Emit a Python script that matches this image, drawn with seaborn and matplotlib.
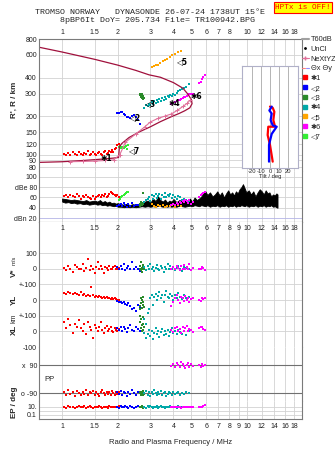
import numpy as np
import pandas as pd
import seaborn as sns
import matplotlib
matplotlib.use('Agg')
from matplotlib import pyplot as plt
from matplotlib.lines import Line2D
from matplotlib.legend_handler import HandlerTuple
from matplotlib.transforms import blended_transform_factory

sns.set_theme(style='white')
plt.rcParams['font.family'] = ['Liberation Sans', 'DejaVu Sans']

# ---- echo traces: freq (MHz), range (km), Vp, YL, XL, PP, EP, amplitude (dBe)
f_red = [1.02,1.05,1.08,1.11,1.14,1.17,1.20,1.23,1.26,1.29,1.32,1.35,1.38,1.41,1.44,1.47,1.50,
         1.53,1.56,1.59,1.62,1.65,1.68,1.71,1.74,1.77,1.80,1.83,1.86,1.89,1.92,1.95,1.98,2.02]
h_red = [101,99,103,100,104,101,99,105,102,100,103,101,106,100,102,104,101,
         99,103,105,102,100,104,107,101,103,106,104,108,105,110,112,118,121]
vp_red = [5,-10,15,0,-20,25,10,-5,0,30,-15,5,60,-10,20,0,-25,
          10,45,-5,15,0,-30,10,5,-10,20,0,-5,10,15,-5,0,5]
yl_red = [45,40,48,42,38,44,40,35,50,30,38,28,32,25,80,30,22,
          28,18,25,20,15,22,12,18,10,15,8,12,5,10,5,2,0]
xl_red = [60,20,80,40,-10,50,30,70,20,0,45,-20,60,30,10,-40,40,
          20,0,25,60,10,-10,20,35,0,15,25,5,-5,20,10,0,15]
pp_red = [-80,-100,-70,-95,-85,-110,-75,-90,-100,-80,-95,-70,-105,-85,-90,-75,-100,
          -80,-95,-110,-85,-70,-90,-100,-80,-95,-85,-105,-75,-90,-100,-85,-95,-80]
ep_red = [10,6,15,9,12,5,10,18,8,11,14,7,10,16,9,6,12,
          10,8,15,11,7,10,13,9,6,14,10,8,12,11,9,10,15]
db_red = [62,65,60,64,63,61,66,62,58,63,61,65,60,59,57,62,58,
          60,63,65,61,64,62,66,60,63,67,70,68,66,65,62,64,60]

f_blue = [1.98,2.03,2.08,2.12,2.16,2.2,2.24,2.28,2.32,2.38,2.44,2.5,2.56,2.62]
h_blue = [212,210,216,214,208,204,198,196,193,200,205,195,186,174]
vp_blue = [10,-5,20,0,30,-10,5,15,0,40,-5,10,0,-15]
yl_blue = [-5,-10,-15,-20,-10,-25,-30,-20,-40,-60,-50,-70,-30,-45]
xl_blue = [20,10,30,0,25,15,-5,20,40,10,0,30,15,5]
pp_blue = [-85,-95,-75,-100,-80,-90,-110,-85,-95,-70,-90,-100,-80,-90]
ep_blue = [10,6,15,8,12,20,9,7,14,10,6,11,16,8]
db_blue = [44,46,48,43,50,45,42,47,44,49,43,46,45,48]

f_green = [2.62,2.64,2.66,2.68,2.69,2.7,2.72,2.73,2.75,2.77]
h_green = [292,300,286,280,296,275,288,270,282,278]
vp_green = [0,20,-10,40,5,-20,10,25,-5,0]
yl_green = [-60,-40,10,-20,-50,0,-30,20,-10,-45]
xl_green = [100,60,20,80,0,40,90,10,50,30]
pp_green = [-90,-80,-100,-85,-95,-90,-75,-105,-85,-95]
ep_green = [10,8,12,9,15,10,7,11,13,9]
db_green = [44,48,52,46,50,45,69,49,47,51]

f_teal = [2.78,2.85,2.9,2.95,3.0,3.05,3.1,3.15,3.2,3.25,3.3,3.36,3.42,3.48,3.54,
          3.6,3.66,3.72,3.78,3.85,3.92,4.0,4.08,4.16,4.25,4.35,4.45,4.55,4.7,4.85]
h_teal = [232,245,238,250,243,256,248,260,252,266,258,270,262,275,268,
          282,274,288,280,292,286,300,294,305,312,318,325,330,340,358]
vp_teal = [10,-10,20,0,30,-5,10,-15,5,25,0,-10,15,5,-20,
           10,0,30,-5,15,0,10,-10,5,20,0,-15,10,5,0]
yl_teal = [-120,-150,-80,-60,10,30,-30,20,40,0,25,50,15,35,-10,
           30,60,20,10,40,25,0,35,15,45,20,5,30,10,20]
xl_teal = [-10,-40,-20,10,-30,0,-50,-10,20,-20,5,-35,-5,15,-25,
           0,-15,10,-30,-5,20,-10,0,-20,10,-5,-15,5,-25,0]
pp_teal = [-90,-75,-100,-85,-110,-80,-95,-70,-90,-105,-85,-95,-75,-100,-90,
           -80,-110,-95,-85,-90,-100,-80,-95,-90,-85,-100,-90,-95,-85,-90]
ep_teal = [10,5,15,8,20,10,6,12,9,14,7,10,18,8,11,6,13,9,10,15,8,12,10,7,14,9,11,10,8,12]
db_teal = [52,55,58,60,54,64,57,62,66,59,63,67,58,64,61,
           68,60,65,62,66,59,64,61,57,63,60,55,58,56,54]

f_orange = [3.07,3.15,3.22,3.3,3.4,3.5,3.6,3.7,3.82,3.95,4.1,4.25,4.4]
h_orange = [480,492,505,498,520,535,548,560,575,595,612,630,650]
db_orange = [47,44,42,46,43,45,41,44,43,46,42,45,44]

f_mag = [3.9,4.0,4.08,4.16,4.24,4.32,4.4,4.48,4.56,4.64,
         4.72,4.8,4.88,4.96,5.1,5.5,5.6,5.7,5.8,5.95]
h_mag = [250,254,258,262,266,268,272,276,280,284,
         288,292,296,300,298,360,372,390,405,420]
vp_mag = [0,10,-5,20,5,-10,15,0,25,-5,10,0,30,-10,5,0,-5,10,5,-10]
yl_mag = [-40,-10,10,30,0,-20,20,10,-5,25,0,15,-10,5,10,0,-5,15,5,10]
xl_mag = [10,-5,20,30,0,15,-10,25,5,20,35,0,15,10,-5,20,30,25,15,10]
pp_mag = [85,95,75,100,90,80,110,95,85,70,90,100,80,95,85,90,80,95,85,90]
ep_mag = [10,8,12,9,10,11,7,10,13,9,10,8,12,10,9,11,10,9,20,25]
db_mag = [46,48,45,50,47,52,49,54,51,56,53,50,55,48,52,60,64,66,68,70]

f_lime = [2.03,2.06,2.09,2.12,2.15,2.18,2.21,2.24,2.27]
h_lime = [114,116,112,115,113,114,117,110,118]
db_lime = [56,58,60,63,65,67,68,70,70]

# ---- profile curves
cr_f = [0.75,1.0,1.3,1.6,1.9,2.02,2.04,2.1,2.3,2.6,3.0,3.4,3.9,4.3,4.6,4.9,5.04,
        5.0,4.8,4.5,4.0,3.4,2.95,2.5,2.0,1.5,1.0,0.75]
cr_h = [87,88,90,92,94,95,115,122,136,150,165,181,198,210,220,232,250,
        268,295,330,365,402,420,455,500,555,633,690]
ne_f = [1.1,1.3,1.5,1.7,1.9,2.05,2.2,2.5,2.8,3.0,3.3,3.6,3.9,4.2,4.5,4.75,4.9]
ne_h = [88,88.5,89,90,91,100,125,145,165,180,192,200,208,222,238,252,265]

# ---- tilt inset
tx_x = [3.0,0.0,-2.6,-1.9,5.6,3.7,4.8,3.0,0.0]
tx_h = [88,119,142,165,165,186,216,232,237]
ty_x = [-1.1,-1.1,1.9,7.4,3.0,0.7,1.9,-0.7,1.9]
ty_h = [88,119,145,165,169,186,209,221,237]

# ---- noise / T60 amplitude band
f_bk = [1.0,1.04,1.08,1.12,1.16,1.2,1.25,1.3,1.35,1.4,1.45,1.5,1.55,1.6,1.65,1.7,1.75,1.8,1.85,1.9,
        1.95,2.0,2.08,2.16,2.24,2.32,2.4,2.5,2.6,2.7,2.8,2.9,3.0,3.1,3.2,3.3,3.4,3.5,3.6,3.7,
        3.8,3.9,4.0,4.15,4.3,4.45,4.6,4.75,4.9,5.05,5.2,5.35,5.5,5.65,5.8,5.95,6.1,6.3,6.5,6.7,
        6.9,7.1,7.3,7.5,7.7,7.9,8.1,8.3,8.5,8.7,8.9,9.1,9.3,9.5,9.7,9.9,10.2,10.5,10.8,11.1,
        11.4,11.7,12.0,12.3,12.6,12.9,13.2,13.5,13.8,14.1,14.4,14.6]
lo_bk = [52,50,51,49,50,48,49,47,48,46,47,48,46,47,45,46,44,45,44,43,
         44,42,42,41,42,41,42,41,42,43,42,43,42,43,42,44,43,42,43,42,
         43,42,43,42,44,43,42,43,44,43,45,44,43,45,44,43,45,42,44,43,
         45,42,44,43,45,42,44,43,45,42,44,43,45,44,43,45,42,44,43,45,
         42,44,43,45,42,44,43,45,42,43,41,40]
hi_bk = [58,57,56,55,56,55,54,53,55,52,53,54,52,55,51,53,50,52,49,50,
         48,49,47,46,48,45,47,46,48,50,52,54,50,58,53,62,55,52,56,50,
         54,52,57,51,55,53,56,50,58,52,60,55,58,62,68,72,65,70,62,66,
         72,64,70,60,68,74,66,70,64,72,68,76,80,86,78,70,74,66,72,62,
         70,76,72,66,74,68,70,62,66,64,68,66]

freq_ticks = [1, 1.5, 2, 3, 4, 5, 6, 7, 8, 10, 12, 14, 16, 18]
mid_ticks = [1, 1.5, 2, 3, 4, 5, 6, 7, 8, 9, 10, 12, 14, 16, 18]
h_ticks = [80, 90, 100, 120, 150, 200, 300, 400, 600, 800]

RED, BLUE, GREEN, TEAL = '#ff0000', '#0000ff', '#2a8a2a', '#00a8a8'
ORANGE, MAG, LIME = '#ffa500', '#ff00ff', '#33ee33'
GRID, FRAME = '#d2d2d2', '#7a7a7a'

W, H = 335, 451
def box(x0, y0, x1, y1):
    return [x0 / W, 1 - y1 / H, (x1 - x0) / W, (y1 - y0) / H]

fig = plt.figure(figsize=(W / 100, H / 100), dpi=100)
ax_h = fig.add_axes(box(39, 39, 302, 171))
ax_db = fig.add_axes(box(39, 171, 302, 222))
ax_v = fig.add_axes(box(39, 222, 302, 347))
ax_pp = fig.add_axes(box(39, 347, 302, 401))
ax_ep = fig.add_axes(box(39, 401, 302, 419))


def pts(ax, x, y, color, s=4.5):
    sns.scatterplot(x=x, y=y, ax=ax, color=color, marker='s', s=s,
                    linewidth=0, legend=False)


# height panel
sns.lineplot(x=cr_f, y=cr_h, ax=ax_h, sort=False, estimator=None, color='#a0103c', lw=0.9)
sns.lineplot(x=ne_f, y=ne_h, ax=ax_h, sort=False, estimator=None, color='#e0709a', lw=0.8,
             marker='+', markersize=3, markeredgewidth=0.7, markeredgecolor='#e0709a')
traces_h = [(f_red, h_red, RED), (f_blue, h_blue, BLUE), (f_green, h_green, GREEN),
            (f_teal, h_teal, TEAL), (f_orange, h_orange, ORANGE), (f_mag, h_mag, MAG),
            (f_lime, h_lime, LIME)]
for f, h, c in traces_h:
    pts(ax_h, f, h, c)
for txt, fx, hy in [('✱1', 1.62, 94), ('◁2', 2.33, 196), ('◁3', 2.8, 252), ('✱4', 3.75, 252),
                    ('◁5', 4.15, 530), ('✱6', 4.95, 282), ('◁7', 2.3, 107)]:
    ax_h.text(fx, hy, txt, fontsize=5.5, color='black', ha='left', va='center',
              family=['DejaVu Sans'], fontweight='bold')

# amplitude panel
ax_db.fill_between(f_bk, lo_bk, hi_bk, color='black', lw=0.6)
for f, d, c in [(f_red, db_red, RED), (f_blue, db_blue, BLUE), (f_green, db_green, GREEN),
                (f_teal, db_teal, TEAL), (f_orange, db_orange, ORANGE), (f_mag, db_mag, MAG),
                (f_lime, db_lime, LIME)]:
    pts(ax_db, f, d, c)

# Vp / YL / XL stacked bands
lower = [(f_red, vp_red, yl_red, xl_red, pp_red, ep_red, RED),
         (f_blue, vp_blue, yl_blue, xl_blue, pp_blue, ep_blue, BLUE),
         (f_green, vp_green, yl_green, xl_green, pp_green, ep_green, GREEN),
         (f_teal, vp_teal, yl_teal, xl_teal, pp_teal, ep_teal, TEAL),
         (f_mag, vp_mag, yl_mag, xl_mag, pp_mag, ep_mag, MAG)]
for f, vp, yl, xl, pp, ep, c in lower:
    pts(ax_v, f, np.array(vp) + 200, c)
    pts(ax_v, f, np.array(yl), c)
    pts(ax_v, f, np.array(xl) - 200, c)
    pts(ax_pp, f, pp, c)
    pts(ax_ep, f, ep, c)

for ax in [ax_h, ax_db, ax_v, ax_pp, ax_ep]:
    ax.set_xscale('log')
    ax.set_xlim(0.75, 19.8)
    ticks = mid_ticks if ax in (ax_v, ax_pp, ax_ep) else freq_ticks
    ax.set_xticks(ticks, labels=['%g' % t for t in ticks])
    ax.grid(True, color=GRID, lw=0.6)
    ax.tick_params(labelsize=5, length=0, colors='#202020', pad=1.5)
    ax.set_xlabel('')
    ax.set_ylabel('')
    for s in ax.spines.values():
        s.set_color(FRAME)
        s.set_linewidth(0.8)

ax_h.set_yscale('log')
ax_h.set_ylim(74.5, 800)
ax_h.set_yticks(h_ticks, labels=[str(t) for t in h_ticks])
ax_h.minorticks_off()
ax_h.xaxis.tick_top()
ax_h.tick_params(axis='x', labeltop=True, labelbottom=False, pad=2)
ax_h.spines['bottom'].set_visible(False)

ax_db.set_ylim(12.2, 111.7)
ax_db.set_yticks([20, 40, 60, 80, 100], labels=['dBn 20', '40', '60', 'dBe 80', '100'])
ax_db.tick_params(axis='x', labelbottom=False)
ax_db.spines['top'].set_visible(False)
ax_db.spines['bottom'].set_color('#404040')
ax_db.get_ygridlines()[0].set_color('#b4b4e6')

ax_v.set_ylim(-300, 498)
ax_v.set_yticks([300, 200, 100, 0, -100, -200, -300],
                labels=['100', '0', '+-100', '0', '+-100', '0', '-100'])
ax_v.xaxis.set_ticks_position('top')
ax_v.tick_params(axis='x', labeltop=True, labelbottom=False, pad=-7.5)
ax_v.spines['top'].set_visible(False)
ax_v.spines['bottom'].set_visible(False)
ax_v.get_ygridlines()[-1].set_color('#a0a0a0')
ax_v.minorticks_off()

ax_pp.set_ylim(-141, 206)
ax_pp.set_yticks([90, -90], labels=['x  90', 'o -90'])
ax_pp.tick_params(axis='x', labelbottom=False)
for gl in ax_pp.get_ygridlines():
    gl.set_color('#707070')
    gl.set_linewidth(0.8)
ax_pp.spines['top'].set_visible(False)
ax_pp.spines['bottom'].set_visible(False)
ax_pp.minorticks_off()
ax_pp.text(0.02, 0, 'PP', fontsize=5.5, va='center',
           transform=blended_transform_factory(ax_pp.transAxes, ax_pp.transData))

ax_ep.set_yscale('log')
ax_ep.set_ylim(0.01, 316)
ax_ep.set_yticks([0.1, 1, 10], labels=['0.1', '', '10.'])
ax_ep.minorticks_off()
ax_ep.spines['top'].set_visible(False)
ax_ep.tick_params(axis='x', pad=3)
ax_ep.set_xlabel('Radio and Plasma Frequency / MHz', fontsize=5.5, labelpad=6)

# tilt inset
ax_t = fig.add_axes(box(242, 66, 298, 168))
ax_t.set_facecolor('white')
sns.lineplot(x=tx_x, y=tx_h, ax=ax_t, sort=False, estimator=None, color=RED, lw=1.6)
sns.lineplot(x=ty_x, y=ty_h, ax=ax_t, sort=False, estimator=None, color=BLUE, lw=1.6)
ax_t.set_yscale('log')
ax_t.set_ylim(78.5, 492)
ax_t.set_xlim(-31, 31)
ax_t.set_xticks([-20, -10, 0, 10, 20], labels=['-20', '-10', '0', '10', '20'])
ax_t.set_yticks([])
ax_t.minorticks_off()
ax_t.grid(True, axis='x', color='#a8a8a8', lw=0.6)
ax_t.tick_params(labelsize=4.2, length=0, pad=1)
ax_t.set_xlabel('Tilt / deg', fontsize=4.2, labelpad=0)
ax_t.set_ylabel('')
for s in ax_t.spines.values():
    s.set_color('#b0b0c8')
    s.set_linewidth(0.8)

# legend
handles = [Line2D([], [], color='#a0a0a0', lw=1.5),
           Line2D([], [], color='black', marker='.', ms=2, ls='none'),
           Line2D([], [], color='#e0709a', marker='+', ms=3, lw=0.8),
           (Line2D([], [], color='#ff8080', lw=0.8), Line2D([], [], color='#9090ff', lw=0.8))]
labels = ['T60dB', 'UnCl', 'NeXtYZ', 'Θx Θy']
for c, lab in [(RED, '✱1'), (BLUE, '◁2'), (GREEN, '◁3'), (TEAL, '✱4'),
               (ORANGE, '◁5'), (MAG, '✱6'), (LIME, '◁7')]:
    handles.append(Line2D([], [], color=c, marker='s', ms=2.5, ls='none'))
    labels.append(lab)
fig.legend(handles, labels, loc='upper left', bbox_to_anchor=(302 / W, 1 - 36 / H),
           frameon=False, fontsize=5.3, handlelength=0.9, handletextpad=0.3,
           labelspacing=0.35, borderpad=0, borderaxespad=0,
           handler_map={tuple: HandlerTuple(ndivide=None, pad=0.2)})

# titles and side labels
fig.text(150 / W, 1 - 12 / H, 'TROMSO NORWAY   DYNASONDE 26-07-24 1738UT 15°E',
         family='Liberation Mono', fontsize=6, ha='center', va='center')
fig.text(157 / W, 1 - 20 / H, '8pBP6It DoY= 205.734 File= TR100942.BPG',
         family='Liberation Mono', fontsize=6, ha='center', va='center')
fig.text(303 / W, 1 - 7.5 / H, 'HPTx is OFF!', family='Liberation Mono', fontsize=5.6,
         color='red', ha='center', va='center',
         bbox=dict(facecolor='#ffff00', edgecolor='red', pad=1.2, lw=0.8))

side = dict(rotation=90, ha='center', va='center', fontweight='bold', fontsize=5.8)
fig.text(14 / W, 1 - 100 / H, "R', R / km", **side)
fig.text(14 / W, 1 - 273 / H, 'V*', **side)
fig.text(14 / W, 1 - 260 / H, 'm/s', rotation=90, ha='center', va='center', fontsize=4.2)
fig.text(14 / W, 1 - 300 / H, 'YL', **side)
fig.text(14 / W, 1 - 318 / H, 'km', rotation=90, ha='center', va='center', fontsize=5)
fig.text(14 / W, 1 - 330 / H, 'XL', **side)
fig.text(14 / W, 1 - 402 / H, 'EP / deg', **side)

fig.savefig('out.png', dpi=100)
